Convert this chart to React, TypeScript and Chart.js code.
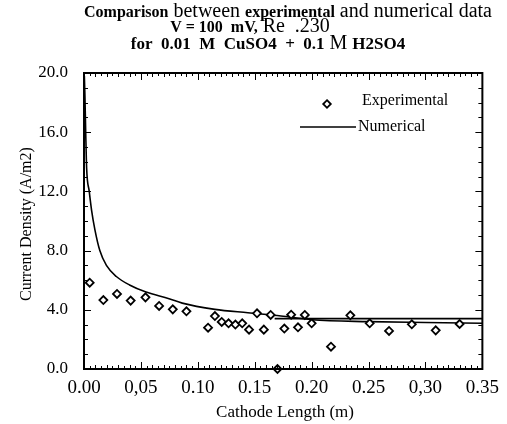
import React, { useEffect, useRef } from "react";
import { Chart, registerables } from "chart.js";

Chart.register(...registerables);

// Experimental data (cathode length m, current density A/m2)
const expX = [0.005, 0.017, 0.029, 0.041, 0.054, 0.066, 0.078, 0.090, 0.109, 0.115, 0.121, 0.127, 0.133, 0.139, 0.145, 0.152, 0.158, 0.164, 0.170, 0.176, 0.182, 0.188, 0.194, 0.200, 0.217, 0.234, 0.251, 0.268, 0.288, 0.309, 0.330];
const expY = [5.83, 4.66, 5.07, 4.62, 4.84, 4.26, 4.03, 3.90, 2.79, 3.58, 3.18, 3.09, 3.00, 3.09, 2.66, 3.76, 2.66, 3.65, 0.0, 2.73, 3.67, 2.82, 3.65, 3.09, 1.51, 3.63, 3.09, 2.57, 3.02, 2.61, 3.04];

// Numerical curve
const numX = [0.0003, 0.0008, 0.0015, 0.0023, 0.0046, 0.0067, 0.0096, 0.0139, 0.0197, 0.0284, 0.040, 0.0545, 0.0747, 0.0863, 0.115, 0.144, 0.173, 0.200, 0.250, 0.300, 0.350];
const numY = [19.8, 18.5, 16.0, 13.6, 12.0, 10.7, 9.4, 8.0, 7.0, 6.25, 5.68, 5.2, 4.75, 4.45, 4.03, 3.8, 3.58, 3.33, 3.2, 3.14, 3.09];

// Second (flat) numerical line
const flatX = [0.1675, 0.35];
const flatY = [3.40, 3.40];

const xTickLabels = ["0.00", "0,05", "0.10", "0.15", "0.20", "0.25", "0,30", "0.35"];
const yTickLabels = ["0.0", "4.0", "8.0", "12.0", "16.0", "20.0"];

const legendLabels = ["Experimental", "Numerical"];
const titleLines: [string, boolean][][] = [
  [["Comparison", true], [" between ", false], ["experimental", true], [" and numerical data", false]],
  [["V = 100  mV,", true], [" Re  .230", false]],
  [["for  0.01  M  CuSO4  +  0.1", true], [" M ", false], ["H2SO4", true]],
];
const xTitle = "Cathode Length (m)";
const yTitle = "Current Density (A/m2)";

const SERIF = "'Liberation Serif', 'Times New Roman', serif";

const decor = {
  id: "decor",
  afterDraw(chart: any) {
    const ctx = chart.ctx as CanvasRenderingContext2D;
    const { left, right, top, bottom } = chart.chartArea;
    const xs = chart.scales.x;
    const ys = chart.scales.y;
    ctx.save();
    ctx.strokeStyle = "#000";
    ctx.fillStyle = "#000";
    // frame
    ctx.lineWidth = 2;
    ctx.strokeRect(left, top, right - left, bottom - top);
    // x ticks (bottom and top, inward)
    ctx.lineWidth = 1;
    for (let i = 0; i <= 70; i++) {
      const v = i * 0.005;
      const px = Math.round(xs.getPixelForValue(v)) + 0.5;
      const len = i % 10 === 0 ? 7 : i % 2 === 0 ? 4 : 3;
      ctx.beginPath();
      ctx.moveTo(px, bottom);
      ctx.lineTo(px, bottom - len);
      ctx.moveTo(px, top);
      ctx.lineTo(px, top + len);
      ctx.stroke();
    }
    // y ticks (left and right, inward)
    for (let i = 0; i <= 20; i++) {
      const py = Math.round(ys.getPixelForValue(i)) + 0.5;
      const len = i % 4 === 0 ? 7 : 4;
      ctx.beginPath();
      ctx.moveTo(left, py);
      ctx.lineTo(left + len, py);
      ctx.moveTo(right, py);
      ctx.lineTo(right - len, py);
      ctx.stroke();
    }
    // legend
    ctx.lineWidth = 1.8;
    ctx.fillStyle = "#fff";
    const mx = 327, my = 104, r = 3.8;
    ctx.beginPath();
    ctx.moveTo(mx, my - r);
    ctx.lineTo(mx + r, my);
    ctx.lineTo(mx, my + r);
    ctx.lineTo(mx - r, my);
    ctx.closePath();
    ctx.fill();
    ctx.stroke();
    ctx.beginPath();
    ctx.lineWidth = 1.6;
    ctx.moveTo(300, 127);
    ctx.lineTo(356, 127);
    ctx.stroke();
    ctx.fillStyle = "#000";
    ctx.font = `16px ${SERIF}`;
    ctx.textBaseline = "middle";
    ctx.textAlign = "left";
    ctx.fillText(legendLabels[0], 362, 101);
    ctx.fillText(legendLabels[1], 358, 127);
    // axis titles
    ctx.font = `17px ${SERIF}`;
    ctx.textAlign = "center";
    ctx.fillText(xTitle, 285, 413);
    ctx.save();
    ctx.translate(27, 224);
    ctx.rotate(-Math.PI / 2);
    ctx.font = `16px ${SERIF}`;
    ctx.fillText(yTitle, 0, 0);
    ctx.restore();
    // title
    const centers = [288, 250, 268];
    const baselines = [17, 32, 49];
    const boldSize = [16, 16, 17];
    ctx.textAlign = "left";
    ctx.textBaseline = "alphabetic";
    titleLines.forEach((segs, li) => {
      const fontFor = (b: boolean) => (b ? `bold ${boldSize[li]}px ${SERIF}` : `20px ${SERIF}`);
      let total = 0;
      const widths = segs.map(([t, b]) => {
        ctx.font = fontFor(b);
        const w = ctx.measureText(t).width;
        total += w;
        return w;
      });
      let x = centers[li] - total / 2;
      segs.forEach(([t, b], i) => {
        ctx.font = fontFor(b);
        ctx.fillText(t, x, baselines[li]);
        x += widths[i];
      });
    });
    ctx.restore();
  },
};

export default function App() {
  const ref = useRef<HTMLCanvasElement>(null);
  useEffect(() => {
    document.body.style.margin = "0";
    const chart = new Chart(ref.current!, {
      type: "scatter",
      data: {
        datasets: [
          {
            label: legendLabels[1],
            data: numX.map((x, i) => ({ x, y: numY[i] })),
            showLine: true,
            borderColor: "#000",
            borderWidth: 1.6,
            pointRadius: 0,
            cubicInterpolationMode: "monotone",
            order: 2,
          } as any,
          {
            label: "flat",
            data: flatX.map((x, i) => ({ x, y: flatY[i] })),
            showLine: true,
            borderColor: "#000",
            borderWidth: 1.8,
            pointRadius: 0,
            order: 3,
          },
          {
            label: legendLabels[0],
            data: expX.map((x, i) => ({ x, y: expY[i] })),
            pointStyle: "rectRot",
            pointRadius: 4,
            pointBorderWidth: 1.8,
            borderColor: "#000",
            backgroundColor: "#fff",
            clip: false,
            order: 1,
          } as any,
        ],
      },
      options: {
        responsive: true,
        maintainAspectRatio: false,
        animation: false,
        layout: { padding: { top: 73, right: 20, left: 0, bottom: 0 } },
        plugins: { legend: { display: false }, tooltip: { enabled: false }, title: { display: false } },
        scales: {
          x: {
            type: "linear",
            min: 0,
            max: 0.35,
            grid: { display: false, drawTicks: false },
            border: { display: false },
            afterFit: (s: any) => { s.height = 55; },
            ticks: {
              stepSize: 0.05,
              padding: 8,
              color: "#000",
              font: { family: SERIF, size: 19 },
              maxRotation: 0,
              autoSkip: false,
              callback: (_v: any, i: number) => xTickLabels[i],
            },
          },
          y: {
            type: "linear",
            min: 0,
            max: 20,
            grid: { display: false, drawTicks: false },
            border: { display: false },
            afterFit: (s: any) => { s.width = 84; },
            ticks: {
              stepSize: 4,
              padding: 16,
              color: "#000",
              font: { family: SERIF, size: 17 },
              callback: (_v: any, i: number) => yTickLabels[i],
            },
          },
        },
      },
      plugins: [decor],
    });
    return () => chart.destroy();
  }, []);
  return (
    <div style={{ width: 507, height: 424, position: "relative" }}>
      <canvas ref={ref} />
    </div>
  );
}
